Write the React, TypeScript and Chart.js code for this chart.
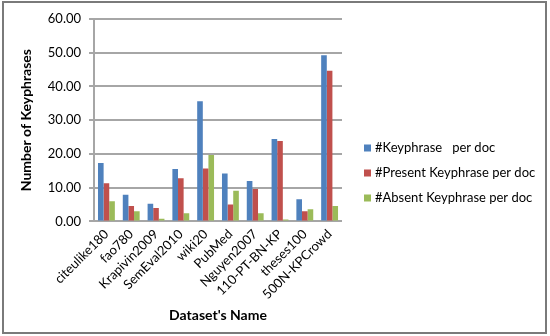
import React, { useEffect, useRef } from "react";
import { Chart, registerables } from "chart.js";

Chart.register(...registerables);

const categories = [
  "citeulike180",
  "fao780",
  "Krapivin2009",
  "SemEval2010",
  "wiki20",
  "PubMed",
  "Nguyen2007",
  "110-PT-BN-KP",
  "theses100",
  "500N-KPCrowd",
];
const keyphrasePerDoc = [17.3, 7.9, 5.2, 15.5, 35.6, 14.2, 12.0, 24.4, 6.6, 49.2];
const presentPerDoc = [11.3, 4.6, 4.0, 12.8, 15.7, 5.0, 9.6, 23.8, 3.0, 44.6];
const absentPerDoc = [6.0, 3.0, 0.8, 2.4, 19.7, 9.1, 2.4, 0.6, 3.6, 4.6];
const seriesNames = [
  "#Keyphrase   per doc",
  "#Present Keyphrase per doc",
  "#Absent Keyphrase per doc",
];
const yTitle = "Number of Keyphrases";
const xTitle = "Dataset's Name";

const FONT = "Lato, 'Open Sans', sans-serif";

const sideLegend = {
  id: "sideLegend",
  afterDraw(chart: any) {
    const ctx = chart.ctx;
    const area = chart.chartArea;
    const x0 = area.right + 22;
    const rowGap = 25;
    const n = chart.data.datasets.length;
    const cy = chart.height / 2 + 5.5;
    ctx.save();
    ctx.font = `13px ${FONT}`;
    ctx.textBaseline = "middle";
    ctx.textAlign = "left";
    chart.data.datasets.forEach((ds: any, i: number) => {
      const y = cy + (i - (n - 1) / 2) * rowGap;
      ctx.fillStyle = ds.backgroundColor;
      ctx.fillRect(x0, y - 3.5, 7, 7);
      ctx.fillStyle = "#000";
      ctx.fillText(ds.label, x0 + 11, y);
    });
    ctx.restore();
  },
};

export default function App() {
  const ref = useRef<HTMLCanvasElement | null>(null);
  useEffect(() => {
    if (!ref.current) return;
    const chart = new Chart(ref.current, {
      type: "bar",
      data: {
        labels: categories,
        datasets: [
          { label: seriesNames[0], data: keyphrasePerDoc, backgroundColor: "#4F81BD" },
          { label: seriesNames[1], data: presentPerDoc, backgroundColor: "#C0504D" },
          { label: seriesNames[2], data: absentPerDoc, backgroundColor: "#9BBB59" },
        ],
      },
      plugins: [sideLegend],
      options: {
        responsive: false,
        animation: false,
        layout: { padding: { left: 14, right: 203, top: 12, bottom: 8 } },
        datasets: {
          bar: { categoryPercentage: 0.68, barPercentage: 1.0 },
        },
        plugins: {
          legend: { display: false },
          tooltip: { enabled: false },
        },
        scales: {
          x: {
            grid: { display: false, drawTicks: false },
            border: { display: false },
            ticks: {
              autoSkip: false,
              minRotation: 45,
              maxRotation: 45,
              color: "#000",
              padding: 5,
              font: { family: FONT, size: 13 },
            },
            title: {
              display: true,
              text: xTitle,
              color: "#000",
              padding: { top: 0, bottom: 0 },
              font: { family: FONT, size: 14, weight: "bold" },
            },
          },
          y: {
            min: 0,
            max: 60,
            grid: { color: "#A6A6A6", lineWidth: 2, tickLength: 5 },
            border: { display: true, color: "#A6A6A6", width: 2 },
            ticks: {
              stepSize: 10,
              color: "#000",
              padding: 8,
              font: { family: FONT, size: 13 },
              callback: (v: any) => Number(v).toFixed(2),
            },
            title: {
              display: true,
              text: yTitle,
              color: "#000",
              padding: { top: 0, bottom: 5 },
              font: { family: FONT, size: 14, weight: "bold" },
            },
          },
        },
      },
    });
    return () => chart.destroy();
  }, []);
  return (
    <div style={{ position: "fixed", left: 0, top: 0, width: 550, height: 336, background: "#fff" }}>
      <div
        style={{
          position: "absolute",
          left: 2,
          top: 1,
          width: 545,
          height: 333,
          border: "2px solid #7a7a7a",
          boxSizing: "border-box",
        }}
      >
        <canvas ref={ref} width={541} height={329} style={{ display: "block" }} />
      </div>
    </div>
  );
}
